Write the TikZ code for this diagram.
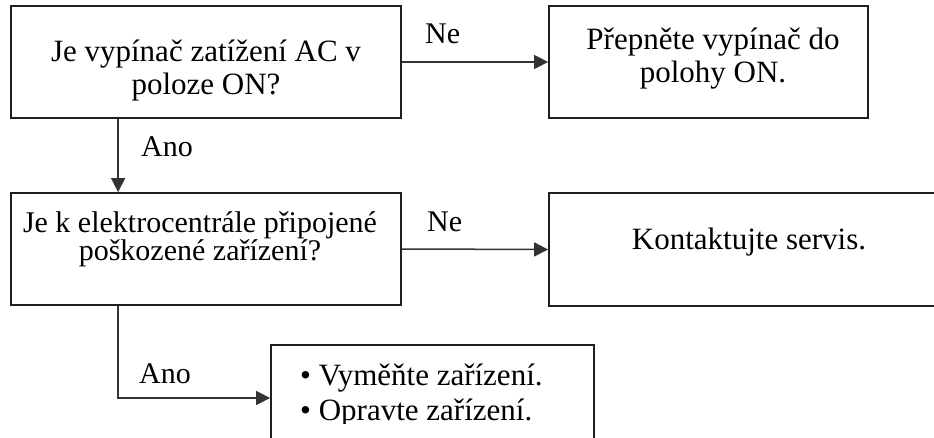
\documentclass[tikz,border=0pt]{standalone}
\usepackage{fontspec}
\setmainfont{Liberation Serif}
\usetikzlibrary{arrows.meta}
\begin{document}
\begin{tikzpicture}[x=1pt,y=-1pt,
  box/.style={draw=black!88, line width=1.8pt, inner sep=0pt},
  txt/.style={inner sep=0pt, align=center, font=\fontsize{31}{33.5}\selectfont},
  lbl/.style={inner sep=0pt, anchor=base west, font=\fontsize{30}{32}\selectfont},
  arr/.style={draw=black!80, line width=1.5pt, -{Triangle[length=14pt,width=14pt]}}]
\useasboundingbox (0,0) rectangle (934,438);
\fill[white] (0,0) rectangle (934,438);
% boxes
\node[box, minimum width=390pt, minimum height=112pt] (q1) at (206,62) {};
\node[box, minimum width=319pt, minimum height=112pt] (r1) at (708.5,62) {};
\node[box, minimum width=390pt, minimum height=112pt] (q2) at (206,249) {};
\node[box, minimum width=402pt, minimum height=113pt] (r2) at (750,249.5) {};
\node[box, minimum width=323pt, minimum height=106pt] (act) at (432.5,398) {};
% texts (base anchor = baseline of the last line)
\node[txt, anchor=base] (q1t) at (206,95) {Je vypínač zatížení AC v\\poloze ON?};
\node[txt, anchor=base] (r1t) at (713,83) {Přepněte vypínač do\\polohy ON.};
\node[txt, anchor=base, font={\fontsize{30}{28}\selectfont\lineskiplimit=-100pt\relax}] (q2t) at (200,261) {Je k elektrocentrále připojené\\poškozené zařízení?};
\node[txt, anchor=base] (r2t) at (749,250) {Kontaktujte servis.};
\begin{scope}
\clip (0,0) rectangle (934,423);
\node[txt, align=left, anchor=base west, font=\fontsize{31}{35}\selectfont] (actt) at (300,420) {• Vyměňte zařízení.\\• Opravte zařízení.};
\end{scope}
% connectors
\draw[arr] (q1.east) -- (r1.west);
\draw[arr] ([xshift=108pt]q1.south west) -- ([xshift=108pt]q2.north west);
\draw[arr] (q2.east) -- (r2.west);
\draw[arr] ([xshift=108pt]q2.south west) |- (act.west);
% labels
\node[lbl] (ne1) at (425,44) {Ne};
\node[lbl] (ano1) at (141,157) {Ano};
\node[lbl] (ne2) at (427,232) {Ne};
\node[lbl] (ano2) at (139,383) {Ano};
\end{tikzpicture}
\end{document}
